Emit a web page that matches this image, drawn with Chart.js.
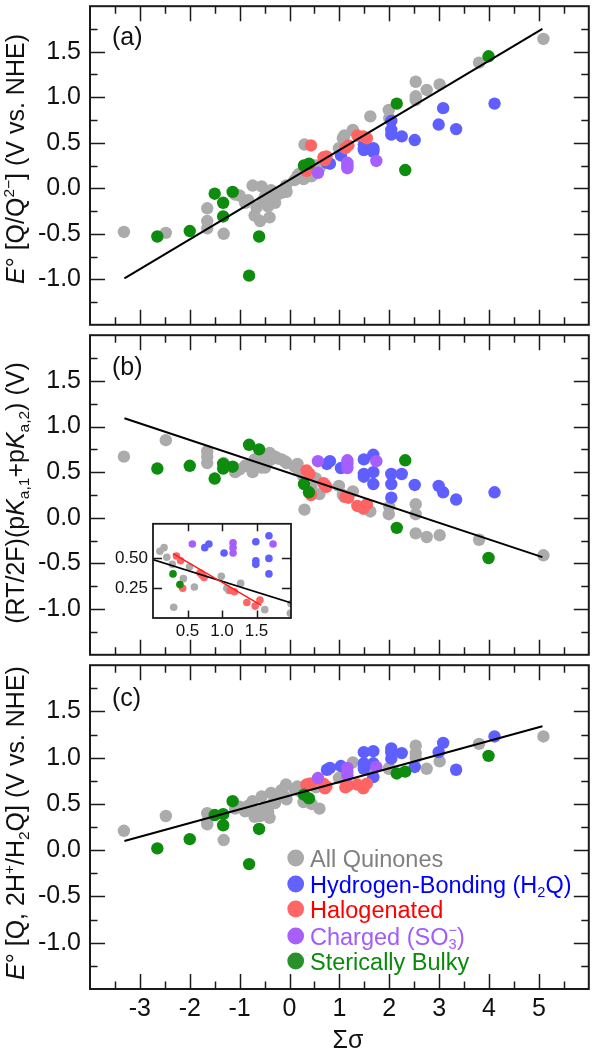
<!DOCTYPE html>
<html>
<head>
<meta charset="utf-8">
<script src="https://cdn.jsdelivr.net/npm/chart.js@4.4.0/dist/chart.umd.min.js"></script>
<style>
  html, body { margin: 0; padding: 0; background: #fff; }
  #wrap { position: relative; width: 595px; height: 1050px; overflow: hidden; }
  #wrap canvas { position: absolute; left: 0; }
</style>
</head>
<body>
<div id="wrap">
  <canvas id="panelA" width="595" height="331" style="top:0px"></canvas>
  <canvas id="panelB" width="595" height="332" style="top:329px"></canvas>
  <canvas id="panelC" width="595" height="391" style="top:659px"></canvas>
  <canvas id="inset" width="185" height="125" style="left:110px;top:520px"></canvas>
</div>
<script>
// ---- data: sigma (x) and the three panel values ----
// All quinones (gray)
const grayX = [-3.32, -2.48, -1.65, -1.65, -1.65, -1.32, -1.09, -1.00, -0.89, -0.83, -0.74, -0.70, -0.66, -0.59, -0.56, -0.53, -0.49, -0.43, -0.40, -0.37, -0.33, -0.29, -0.24, -0.16, -0.10, -0.06, -0.07, 0.10, 0.16, 0.20, 0.28, 0.30, 0.44, 0.53, 0.60, 0.99, 1.07, 1.10, 1.27, 1.62, 1.99, 2.00, 2.53, 2.53, 2.53, 2.75, 3.01, 3.80, 5.09];
const grayA = [-0.48, -0.49, -0.22, -0.36, -0.44, -0.50, -0.07, -0.08, -0.16, -0.13, 0.03, -0.30, -0.21, -0.36, 0.02, -0.13, -0.09, -0.20, -0.32, -0.02, -0.13, -0.16, -0.07, -0.05, -0.04, -0.04, 0.03, 0.09, 0.14, 0.16, 0.10, 0.48, 0.13, 0.25, 0.22, 0.44, 0.55, 0.58, 0.64, 0.79, 0.86, 0.77, 1.17, 1.01, 0.97, 1.08, 1.14, 1.38, 1.64];
const grayB = [0.67, 0.85, 0.60, 0.67, 0.73, 0.60, 0.50, 0.53, 0.57, 0.57, 0.50, 0.64, 0.60, 0.65, 0.55, 0.57, 0.55, 0.62, 0.71, 0.64, 0.67, 0.67, 0.65, 0.64, 0.62, 0.60, 0.61, 0.56, 0.59, 0.51, 0.45, 0.09, 0.33, 0.43, 0.26, 0.35, 0.25, 0.23, 0.29, 0.07, 0.04, 0.12, -0.17, 0.04, 0.15, -0.21, -0.19, -0.24, -0.41];
const grayC = [0.21, 0.37, 0.40, 0.31, 0.28, 0.11, 0.45, 0.47, 0.42, 0.48, 0.53, 0.36, 0.41, 0.37, 0.58, 0.44, 0.46, 0.42, 0.35, 0.62, 0.51, 0.51, 0.60, 0.65, 0.58, 0.55, 0.71, 0.66, 0.69, 0.64, 0.52, 0.57, 0.50, 0.68, 0.45, 0.78, 0.80, 0.82, 0.95, 0.86, 0.88, 0.89, 1.00, 1.05, 1.13, 0.88, 0.96, 1.15, 1.23];

// Hydrogen-bonding (blue)
const hbX = [0.75, 0.81, 1.03, 1.49, 1.49, 1.49, 1.68, 1.68, 1.68, 2.04, 2.04, 2.04, 2.25, 2.51, 2.99, 3.08, 3.34, 4.11];
const hbA = [0.28, 0.27, 0.36, 0.42, 0.48, 0.44, 0.40, 0.44, 0.42, 0.64, 0.74, 0.59, 0.57, 0.53, 0.70, 0.88, 0.65, 0.93];
const hbB = [0.59, 0.62, 0.545, 0.64, 0.48, 0.45, 0.69, 0.50, 0.37, 0.48, 0.37, 0.22, 0.48, 0.36, 0.35, 0.28, 0.20, 0.28];
const hbC = [0.87, 0.89, 0.91, 1.06, 0.94, 0.88, 1.07, 0.94, 0.79, 1.10, 1.06, 0.99, 1.05, 0.90, 1.06, 1.16, 0.87, 1.23];

// Halogenated (red)
const haloX = [0.34, 0.40, 0.43, 0.68, 0.71, 0.74, 1.12, 1.18, 1.36, 1.48, 1.55];
const haloA = [0.19, 0.24, 0.47, 0.34, 0.31, 0.35, 0.44, 0.47, 0.58, 0.57, 0.55];
const haloB = [0.52, 0.48, 0.25, 0.38, 0.36, 0.34, 0.23, 0.22, 0.13, 0.10, 0.15];
const haloC = [0.71, 0.72, 0.72, 0.72, 0.67, 0.69, 0.68, 0.70, 0.71, 0.67, 0.72];

// Charged SO3- (purple)
const chX = [0.57, 1.16, 1.16, 1.16, 1.74];
const chA = [0.17, 0.28, 0.22, 0.25, 0.30];
const chB = [0.62, 0.63, 0.59, 0.545, 0.62];
const chC = [0.78, 0.89, 0.81, 0.85, 0.90];

// Sterically bulky (green)
const bulkX = [-2.65, -2.00, -1.50, -1.33, -1.33, -1.14, -0.81, -0.61, 0.29, 0.39, 2.15, 2.32, 3.99];
const bulkA = [-0.53, -0.47, -0.06, -0.16, -0.31, -0.04, -0.96, -0.53, 0.25, 0.27, 0.93, 0.20, 1.45];
const bulkB = [0.54, 0.57, 0.43, 0.54, 0.59, 0.56, 0.80, 0.75, 0.37, 0.28, -0.11, 0.63, -0.44];
const bulkC = [0.02, 0.12, 0.38, 0.39, 0.27, 0.53, -0.15, 0.23, 0.60, 0.56, 0.83, 0.85, 1.02];

// fit lines (end points)
const fitX = [-3.31, 5.07];
const fitA = [-0.99, 1.75];
const fitB = [1.09, -0.43];
const fitC = [0.10, 1.34];
const haloFitX = [0.29, 1.57];
const haloFitB = [0.54, 0.106];

// axis ticks
const xMajor = [-3, -2, -1, 0, 1, 2, 3, 4, 5];
const xMinor = [-3.5, -2.5, -1.5, -0.5, 0.5, 1.5, 2.5, 3.5, 4.5, 5.5];
const yMajor = [-1.0, -0.5, 0.0, 0.5, 1.0, 1.5];
const yMinor = [-1.25, -0.75, -0.25, 0.25, 0.75, 1.25, 1.75];
const insetXTicks = [0.5, 1.0, 1.5];
const insetYTicks = [0.25, 0.5];

const legendNames = [
  [['All Quinones']],
  [['Hydrogen-Bonding (H'], ['2', 'sub'], ['Q)']],
  [['Halogenated']],
  [['Charged (SO'], ['3', 'both', '\u2212'], [')']],
  [['Sterically Bulky']]
];
const dotColors = ['#ababab', '#5f5fff', '#ff6464', '#a65eff', '#0e8c0e'];
const legendDot = ['#aaaaaa', '#6262ff', '#ff6666', '#a85ff8', '#2a902a'];
const legendText = ['#808080', '#0000ff', '#ff0000', '#a05cff', '#0a8a0a'];

const FONT = '"Liberation Sans", Arial, Helvetica, sans-serif';
Chart.defaults.font.family = FONT;
Chart.defaults.color = '#111';

function pts(xs, ys) {
  return xs.map((x, i) => ({ x: x, y: ys[i] }));
}

function setFont(ctx, size, italic) {
  ctx.font = (italic ? 'italic ' : '') + size + 'px ' + FONT;
}

// draw text with sub/superscripts and italics
function drawRich(ctx, segs, x, y, size, align) {
  const small = size * 0.62;
  const parts = segs.map(s => {
    const style = s[1] || '';
    let w;
    if (style === 'sub' || style === 'sup') {
      setFont(ctx, small);
      w = ctx.measureText(s[0]).width;
    } else if (style === 'both') {
      setFont(ctx, small);
      w = Math.max(ctx.measureText(s[0]).width, ctx.measureText(s[2]).width);
    } else {
      setFont(ctx, size, style === 'i');
      w = ctx.measureText(s[0]).width;
    }
    return { s: s, style: style, w: w };
  });
  const total = parts.reduce((t, p) => t + p.w, 0);
  let cx = align === 'center' ? x - total / 2 : x;
  ctx.textAlign = 'left';
  ctx.textBaseline = 'alphabetic';
  parts.forEach(p => {
    if (p.style === 'sub') {
      setFont(ctx, small);
      ctx.fillText(p.s[0], cx, y + size * 0.2);
    } else if (p.style === 'sup') {
      setFont(ctx, small);
      ctx.fillText(p.s[0], cx, y - size * 0.4);
    } else if (p.style === 'both') {
      setFont(ctx, small);
      ctx.fillText(p.s[0], cx, y + size * 0.2);
      ctx.fillText(p.s[2], cx, y - size * 0.42);
    } else {
      setFont(ctx, size, p.style === 'i');
      ctx.fillText(p.s[0], cx, y);
    }
    cx += p.w;
  });
}

// frame with inward ticks on all four sides
function framePlugin(cfg) {
  return {
    id: 'frame',
    beforeDatasetsDraw(chart) {
      if (!cfg.fill) return;
      const a = chart.chartArea;
      chart.ctx.save();
      chart.ctx.fillStyle = '#fff';
      chart.ctx.fillRect(a.left, a.top, a.right - a.left, a.bottom - a.top);
      chart.ctx.restore();
    },
    afterDraw(chart) {
      const ctx = chart.ctx;
      const a = chart.chartArea;
      const x = chart.scales.x, y = chart.scales.y;
      ctx.save();
      ctx.strokeStyle = '#1a1a1a';
      ctx.lineWidth = cfg.tickWidth;
      ctx.beginPath();
      cfg.xTicks.forEach(t => {
        const px = Math.round(x.getPixelForValue(t[0])) + 0.5;
        ctx.moveTo(px, a.bottom); ctx.lineTo(px, a.bottom - t[1]);
        ctx.moveTo(px, a.top); ctx.lineTo(px, a.top + t[1]);
      });
      cfg.yTicks.forEach(t => {
        const py = Math.round(y.getPixelForValue(t[0])) + 0.5;
        ctx.moveTo(a.left, py); ctx.lineTo(a.left + t[1], py);
        ctx.moveTo(a.right, py); ctx.lineTo(a.right - t[1], py);
      });
      ctx.stroke();
      ctx.lineWidth = cfg.frameWidth;
      ctx.strokeRect(a.left, a.top, a.right - a.left, a.bottom - a.top);
      ctx.restore();
    }
  };
}

function textPlugin(title, titleY, label, labelY, withLegend) {
  return {
    id: 'panelText',
    afterDraw(chart) {
      const ctx = chart.ctx;
      ctx.save();
      ctx.fillStyle = '#111';
      ctx.translate(24, titleY);
      ctx.rotate(-Math.PI / 2);
      drawRich(ctx, title, 0, 0, 25, 'center');
      ctx.restore();

      ctx.save();
      ctx.fillStyle = '#111';
      drawRich(ctx, [[label]], 112, labelY, 25, 'left');
      if (withLegend) {
        const rows = [199, 225, 250, 277, 302];
        rows.forEach((ry, i) => {
          ctx.fillStyle = legendDot[i];
          ctx.beginPath();
          ctx.arc(295.7, ry, 8.4, 0, Math.PI * 2);
          ctx.fill();
          ctx.fillStyle = legendText[i];
          drawRich(ctx, legendNames[i], 310, ry + 8.5, 23.5, 'left');
        });
        ctx.fillStyle = '#111';
        drawRich(ctx, [['\u03A3\u03C3']], 348, 389, 25, 'center');
      }
      ctx.restore();
    }
  };
}

function mainTicks() {
  return {
    tickWidth: 1.5,
    frameWidth: 2,
    xTicks: xMajor.map(v => [v, 15]).concat(xMinor.map(v => [v, 7.5])),
    yTicks: yMajor.map(v => [v, 15]).concat(yMinor.map(v => [v, 7.5]))
  };
}

function scatterSet(data, color, r, clip) {
  return {
    type: 'scatter',
    data: data,
    backgroundColor: color,
    borderWidth: 0,
    pointRadius: r,
    pointHoverRadius: r,
    clip: clip
  };
}

function lineSet(xs, ys, color, w, clip) {
  return {
    type: 'line',
    data: pts(xs, ys),
    borderColor: color,
    borderWidth: w,
    pointRadius: 0,
    fill: false,
    clip: clip
  };
}

// fixed axis boxes, no extra padding for end labels
function fixY(width) {
  return s => { s.width = width; s.paddingTop = 0; s.paddingBottom = 0; };
}
function fixX(height) {
  return s => { s.height = height; s.paddingLeft = 0; s.paddingRight = 0; };
}

function makePanel(id, ys, fitY, padding, showX, title, titleY, label, labelY, withLegend) {
  const R = 6.2;
  return new Chart(document.getElementById(id), {
    type: 'scatter',
    data: {
      datasets: [
        lineSet(fitX, fitY, '#000', 2, 10),
        scatterSet(pts(bulkX, ys.bulk), dotColors[4], R, 10),
        scatterSet(pts(chX, ys.ch), dotColors[3], R, 10),
        scatterSet(pts(haloX, ys.halo), dotColors[2], R, 10),
        scatterSet(pts(hbX, ys.hb), dotColors[1], R, 10),
        scatterSet(pts(grayX, ys.gray), dotColors[0], R, 10)
      ]
    },
    options: {
      responsive: false,
      animation: false,
      devicePixelRatio: 1,
      events: [],
      layout: { padding: padding },
      plugins: { legend: { display: false }, tooltip: { enabled: false } },
      scales: {
        x: {
          type: 'linear', min: -4, max: 6, display: showX,
          grid: { display: false, drawTicks: false },
          border: { display: false },
          ticks: {
            stepSize: 1, autoSkip: false, maxRotation: 0, padding: 5,
            font: { size: 25 }, color: '#111',
            callback: v => (v <= -4 || v >= 6) ? '' : String(v)
          },
          afterFit: fixX(showX ? 61 : 0)
        },
        y: {
          type: 'linear', min: -1.5, max: 2.0,
          grid: { display: false, drawTicks: false },
          border: { display: false },
          ticks: {
            stepSize: 0.5, autoSkip: false, padding: 9,
            font: { size: 25 }, color: '#111',
            callback: v => (v < -1.25 || v > 1.75) ? '' : v.toFixed(1)
          },
          afterFit: fixY(90)
        }
      }
    },
    plugins: [framePlugin(mainTicks()), textPlugin(title, titleY, label, labelY, withLegend)]
  });
}

const titleA = [['E', 'i'], ['\u00B0 [Q/Q'], ['2\u2212', 'sup'], ['] (V vs. NHE)']];
const titleB = [['(RT/2F)(p'], ['K', 'i'], ['a,1', 'sub'], ['+p'], ['K', 'i'], ['a,2', 'sub'], [') (V)']];
const titleC = [['E', 'i'], ['\u00B0 [Q, 2H'], ['+', 'sup'], ['/H'], ['2', 'sub'], ['Q] (V vs. NHE)']];

makePanel('panelA',
  { gray: grayA, hb: hbA, halo: haloA, ch: chA, bulk: bulkA }, fitA,
  { top: 1, bottom: 1, left: 0, right: 1 }, false,
  titleA, 159, '(a)', 45, false);

makePanel('panelB',
  { gray: grayB, hb: hbB, halo: haloB, ch: chB, bulk: bulkB }, fitB,
  { top: 1, bottom: 1, left: 0, right: 1 }, false,
  titleB, 493 - 329, '(b)', 46, false);

makePanel('panelC',
  { gray: grayC, hb: hbC, halo: haloC, ch: chC, bulk: bulkC }, fitC,
  { top: 1, bottom: 0, left: 0, right: 1 }, true,
  titleC, 823 - 659, '(c)', 47, true);

// inset: zoom of panel (b)
const r = 3.8;
new Chart(document.getElementById('inset'), {
  type: 'scatter',
  data: {
    datasets: [
      lineSet(haloFitX, haloFitB, '#ff1a1a', 1.4, 0),
      lineSet(fitX, fitB, '#000', 1.5, 0),
      scatterSet(pts(bulkX, bulkB), dotColors[4], r, 0),
      scatterSet(pts(chX, chB), dotColors[3], r, 0),
      scatterSet(pts(haloX, haloB), dotColors[2], r, 0),
      scatterSet(pts(hbX, hbB), dotColors[1], r, 0),
      scatterSet(pts(grayX, grayB), dotColors[0], r, 0)
    ]
  },
  options: {
    responsive: false,
    animation: false,
    devicePixelRatio: 1,
    events: [],
    layout: { padding: { top: 3, right: 4, left: 0, bottom: 0 } },
    plugins: { legend: { display: false }, tooltip: { enabled: false } },
    scales: {
      x: {
        type: 'linear', min: 0, max: 2,
        grid: { display: false, drawTicks: false },
        border: { display: false },
        ticks: {
          stepSize: 0.5, autoSkip: false, maxRotation: 0, padding: 3,
          font: { size: 17 }, color: '#111',
          callback: v => (v > 0.1 && v < 1.9) ? v.toFixed(1) : ''
        },
        afterFit: fixX(27)
      },
      y: {
        type: 'linear', min: 0, max: 0.79,
        grid: { display: false, drawTicks: false },
        border: { display: false },
        ticks: {
          stepSize: 0.25, autoSkip: false, padding: 5,
          font: { size: 17 }, color: '#111',
          callback: v => (v > 0.1 && v < 0.6) ? v.toFixed(2) : ''
        },
        afterFit: fixY(43)
      }
    }
  },
  plugins: [framePlugin({
    fill: true,
    tickWidth: 1.5,
    frameWidth: 1.8,
    xTicks: insetXTicks.map(v => [v, 7.5]),
    yTicks: insetYTicks.map(v => [v, 9])
  })]
});
</script>
</body>
</html>
